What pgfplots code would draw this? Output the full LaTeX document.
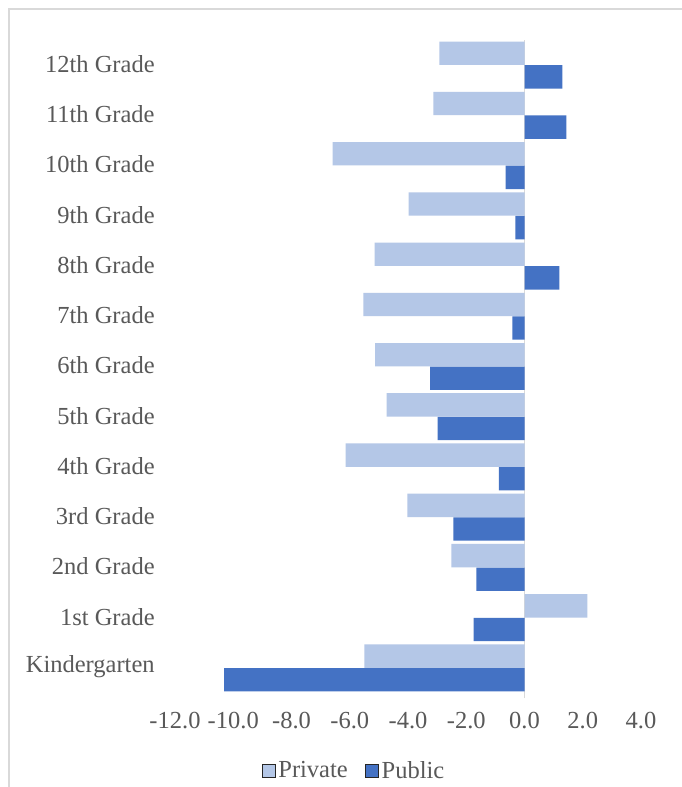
\documentclass[border=0pt]{standalone}
\usepackage{pgfplots}
\pgfplotsset{compat=1.18}
\usepackage{fontspec}
\setmainfont{Liberation Serif}
\definecolor{txt}{HTML}{595959}
\definecolor{priv}{HTML}{B4C7E7}
\definecolor{pub}{HTML}{4472C4}
\begin{document}
\fontsize{24.5}{28}\selectfont
\begin{tikzpicture}
\useasboundingbox (0pt,0pt) rectangle (681pt,787pt);
\fill[white] (0pt,0pt) rectangle (681pt,787pt);
\draw[black!15, line width=1.5pt] (9pt,-5pt) -- (9pt,778pt) -- (690pt,778pt);
\begin{axis}[
  at={(175pt,94pt)}, anchor=south west,
  scale only axis, width=466pt, height=653pt,
  xbar, bar width=0.465,
  xmin=-12, xmax=4,
  ymin=-0.5, ymax=12.5,
  xtick={-12,-10,...,4},
  ytick={0,...,12},
  yticklabels={Kindergarten,1st Grade,2nd Grade,3rd Grade,4th Grade,5th Grade,6th Grade,7th Grade,8th Grade,9th Grade,10th Grade,11th Grade,12th Grade},
  axis line style={draw=none},
  major tick length=0pt,
  tick label style={text=txt, font=\fontsize{24.5}{28}\selectfont},
  /pgf/number format/assume math mode=true,
  xticklabel={\pgfmathprintnumber[fixed,fixed zerofill,precision=1]{\tick}},
  xticklabel style={yshift=-11pt},
  yticklabel style={anchor=east, xshift=-12pt, yshift=1pt},
  legend style={at={(0.385,-0.12)}, anchor=center, draw=none, legend columns=2,
    font=\fontsize{24.5}{28}\selectfont, text=txt,
    nodes={inner xsep=3pt},
    /tikz/every even column/.append style={column sep=14pt}},
  legend image code/.code={\draw[#1, draw=black!85, line width=0.9pt] (0pt,-6.5pt) rectangle (13pt,6.5pt);},
  clip=false,
]
\draw[black!15, line width=1.2pt] (axis cs:0,-0.6) -- (axis cs:0,12.5);
\addplot[fill=priv, draw=none, bar shift=0.235] coordinates {
(-5.5,0) (2.16,1) (-2.51,2) (-4.02,3) (-6.14,4) (-4.73,5) (-5.13,6) (-5.53,7) (-5.15,8) (-3.98,9) (-6.59,10) (-3.13,11) (-2.92,12)};
\addlegendentry{Private}
\addplot[fill=pub, draw=none, bar shift=-0.235] coordinates {
(-10.31,0) (-1.75,1) (-1.65,2) (-2.44,3) (-0.88,4) (-2.98,5) (-3.24,6) (-0.42,7) (1.2,8) (-0.31,9) (-0.65,10) (1.44,11) (1.3,12)};
\addlegendentry{Public}
\end{axis}
\end{tikzpicture}
\end{document}
